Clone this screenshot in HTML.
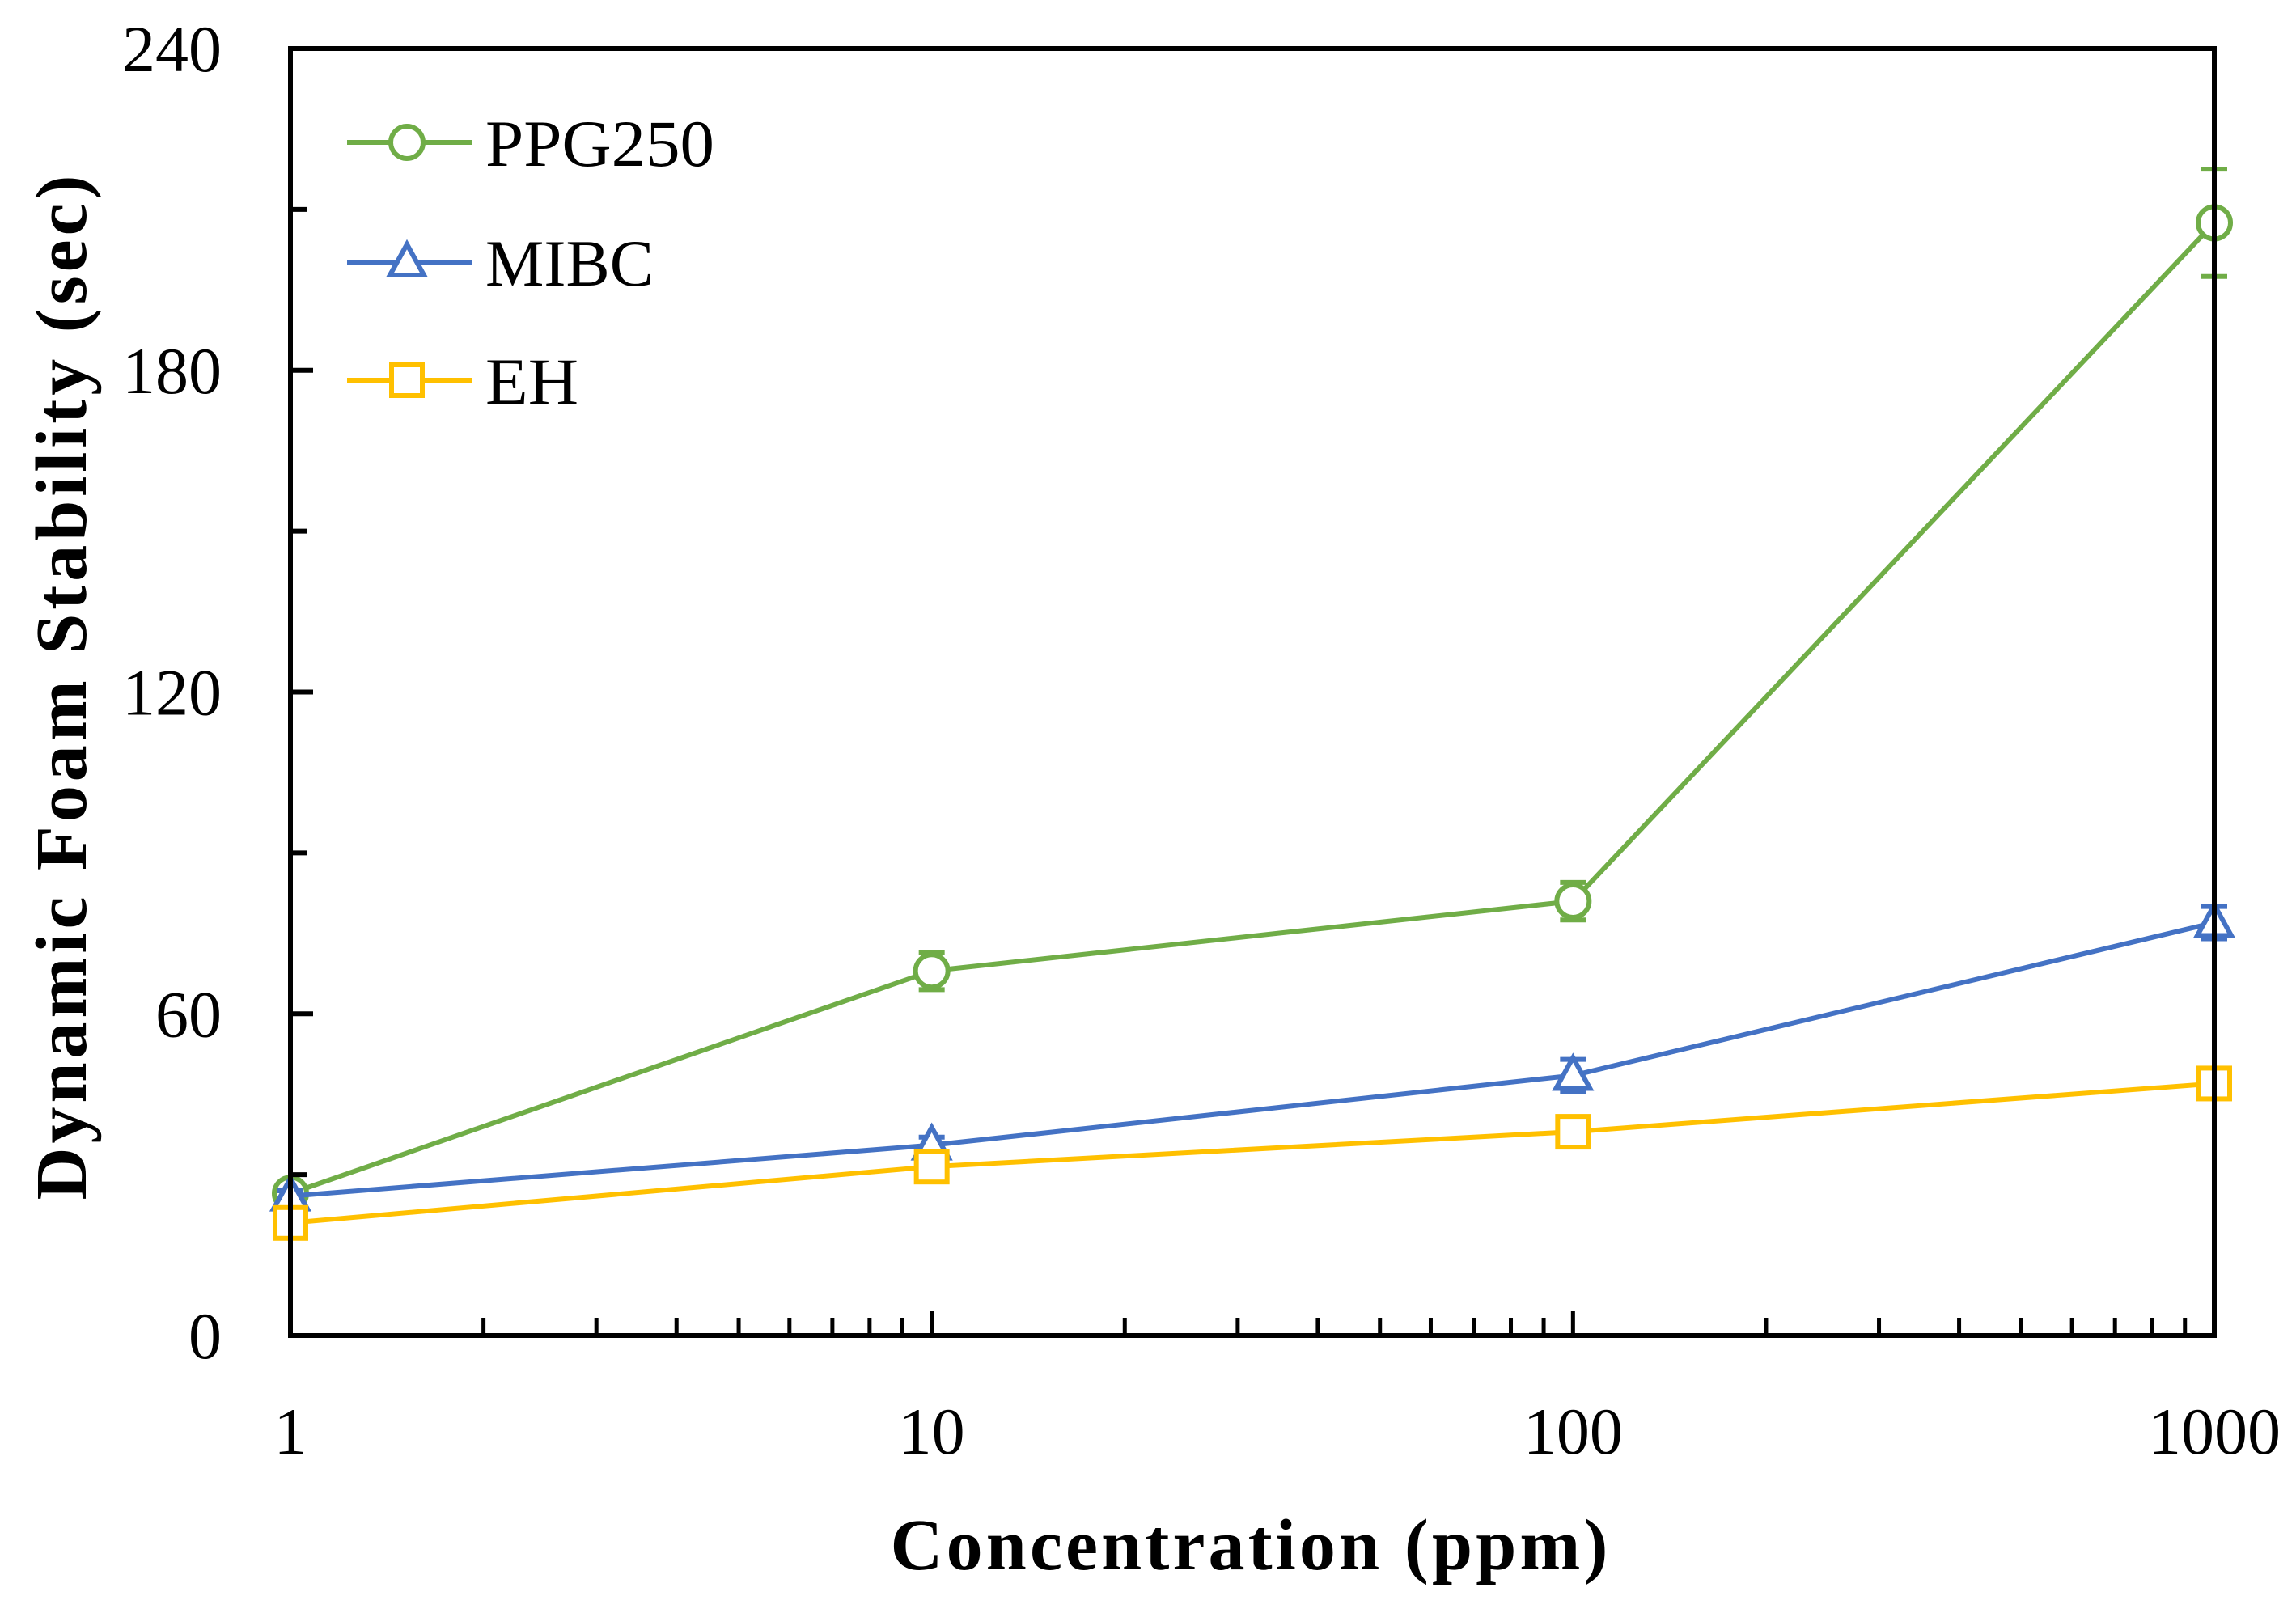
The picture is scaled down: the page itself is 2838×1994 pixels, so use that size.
<!DOCTYPE html>
<html><head><meta charset="utf-8"><style>
html,body{margin:0;padding:0;background:#fff;}
svg{display:block;}
text{font-family:"Book Antiqua","Palatino Linotype","Liberation Serif",serif;fill:#000;}
</style></head><body>
<svg id="chart" width="2838" height="1994" viewBox="0 0 2838 1994" xmlns="http://www.w3.org/2000/svg">
<g id="grid"></g>
<g id="series"></g>
<g id="axes"></g>
<g id="legend"></g>
</svg>
<script>
const categories = [1, 10, 100, 1000];
const ppgValues = [26.5, 68, 81, 207.5];
const ppgErrors = [1.5, 3.5, 3.5, 10];
const mibcValues = [26, 35.5, 48.5, 77];
const mibcErrors = [1, 1.5, 3, 3];
const ehValues = [21, 31.5, 38, 47];
const ehErrors = [0.5, 0.5, 0.5, 0.5];
const yTicks = [0, 60, 120, 180, 240];
const yMinorTicks = [30, 90, 150, 210];
const xTickLabels = ["1", "10", "100", "1000"];

const NS = "http://www.w3.org/2000/svg";
const L = 359, R = 2737, T = 60, B = 1651;
const xScale = v => L + (Math.log10(v) - 0) / 3 * (R - L);
const yScale = v => B - v / 240 * (B - T);

function mk(tag, attrs, parent) {
  const e = document.createElementNS(NS, tag);
  for (const k in attrs) e.setAttribute(k, attrs[k]);
  parent.appendChild(e);
  return e;
}
const axes = document.getElementById('axes');
const series = document.getElementById('series');
const legend = document.getElementById('legend');

const frame = mk('rect', {x: L, y: T, width: R - L, height: B - T, fill: 'none', stroke: '#000', 'stroke-width': 6}, axes);



yTicks.forEach(v => {
  const y = yScale(v);
  if (v > 0 && v < 240) {
    const t = mk('line', {x1: L, x2: L + 28, y1: y, y2: y, stroke: '#000', 'stroke-width': 6}, axes);
    
    
  }
  const lb = mk('text', {x: 274, y: y + 28, 'text-anchor': 'end', 'font-size': 82}, axes);
  lb.textContent = v;
  
  
});
yMinorTicks.forEach(v => {
  const y = yScale(v);
  const t = mk('line', {x1: L, x2: L + 20, y1: y, y2: y, stroke: '#000', 'stroke-width': 6}, axes);
  
  
});
for (let d = 0; d < 3; d++) {
  for (let m = 2; m <= 10; m++) {
    const v = m * Math.pow(10, d);
    const x = xScale(v);
    const len = m === 10 ? 30 : 22;
    if (v === 1000) continue;
    const t = mk('line', {x1: x, x2: x, y1: B, y2: B - len, stroke: '#000', 'stroke-width': 5}, axes);
    
    
  }
}
categories.forEach((c, i) => {
  const lb = mk('text', {x: xScale(c), y: 1797, 'text-anchor': 'middle', 'font-size': 82}, axes);
  lb.textContent = xTickLabels[i];
  
  
});
const xt = mk('text', {x: 1544, y: 1940, 'text-anchor': 'middle', 'font-size': 90, 'font-weight': 'bold', textLength: 887, lengthAdjust: 'spacing'}, axes);
xt.textContent = 'Concentration  (ppm)';


const yt = mk('text', {x: 0, y: 0, 'text-anchor': 'middle', 'font-size': 90, 'font-weight': 'bold', textLength: 1267, lengthAdjust: 'spacing', transform: 'translate(106,850) rotate(-90)'}, axes);
yt.textContent = 'Dynamic Foam Stability  (sec)';



function marker(type, cx, cy, color, parent) {
  let e;
  if (type === 'circle') e = mk('circle', {cx: cx, cy: cy, r: 20, fill: '#fff', stroke: color, 'stroke-width': 6}, parent);
  else if (type === 'tri') e = mk('polygon', {points: `${cx},${cy-22} ${cx+21},${cy+16} ${cx-21},${cy+16}`, fill: '#fff', stroke: color, 'stroke-width': 6}, parent);
  else e = mk('rect', {x: cx - 19, y: cy - 19, width: 38, height: 38, fill: '#fff', stroke: color, 'stroke-width': 6}, parent);
  return e;
}
function drawSeries(name, vals, errs, color, type) {
  const g = mk('g', {}, series);
  
  
  const pts = categories.map((c, i) => xScale(c) + ',' + yScale(vals[i])).join(' ');
  const line = mk('polyline', {points: pts, fill: 'none', stroke: color, 'stroke-width': 6}, g);
  
  
  categories.forEach((c, i) => {
    const x = xScale(c), y1 = yScale(vals[i] + errs[i]), y2 = yScale(vals[i] - errs[i]);
    const eb = mk('path', {d: `M${x},${y1}V${y2}M${x-16},${y1}H${x+16}M${x-16},${y2}H${x+16}`, stroke: color, 'stroke-width': 6, fill: 'none'}, g);
    
    
    const m = marker(type, x, yScale(vals[i]), color, g);
    
    
  });
}
drawSeries('ppg250', ppgValues, ppgErrors, '#70AD47', 'circle');
drawSeries('mibc', mibcValues, mibcErrors, '#4472C4', 'tri');
drawSeries('eh', ehValues, ehErrors, '#FFC000', 'square');

const leg = [['PPG250', '#70AD47', 'circle', 176, 283], ['MIBC', '#4472C4', 'tri', 324, 208], ['EH', '#FFC000', 'square', 470, 115]];
leg.forEach(([lbl, color, type, y, w]) => {
  const g = mk('g', {}, legend);
  
  
  mk('line', {x1: 429, x2: 584, y1: y, y2: y, stroke: color, 'stroke-width': 6}, g);
  marker(type, 503, y, color, g);
  const t = mk('text', {x: 600, y: y + 29, 'font-size': 82, textLength: w, lengthAdjust: 'spacingAndGlyphs'}, g);
  t.textContent = lbl;
});
</script>
</body></html>
